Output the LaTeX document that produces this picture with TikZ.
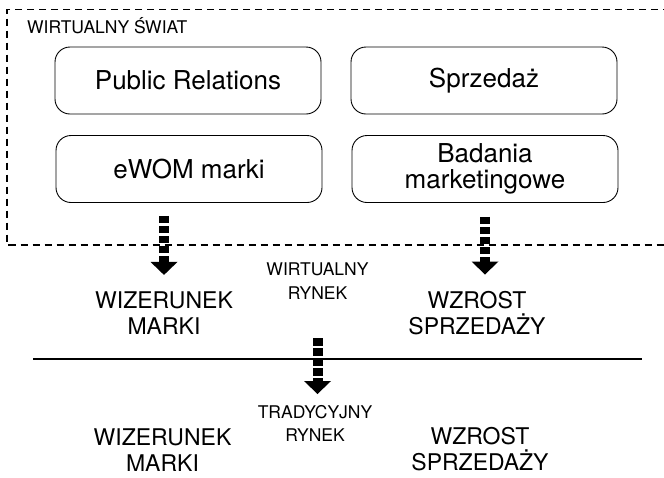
\documentclass[tikz,border=0pt]{standalone}
\usepackage{fontspec}
\setmainfont{TeX Gyre Heros}
\usetikzlibrary{arrows.meta,positioning}

\begin{document}
\begin{tikzpicture}[x=1pt, y=-1pt,
    box/.style={draw, rounded corners=15pt, line width=0.9pt, minimum width=266pt, minimum height=67pt, align=center, font=\fontsize{26}{25.5}\selectfont},
    big/.style={align=center, inner sep=0pt, font=\fontsize{23}{26}\selectfont},
    small/.style={align=center, inner sep=0pt, font=\fontsize{17.5}{23.5}\selectfont},
    squares/.style={line width=10pt, dash pattern=on 7.5pt off 2.5pt, -{Triangle[length=13pt, width=27pt, line width=0pt]}}]
    \useasboundingbox (0,0) rectangle (664,477);

    % Virtual world frame (open to the right)
    \draw[line width=1.1pt, dash pattern=on 7pt off 5pt] (670,9.5) -- (7,9.5) -- (7,245) -- (670,245);
    \node[anchor=base west, inner sep=0pt, font=\fontsize{17.5}{20}\selectfont] (swiat) at (27,33) {WIRTUALNY ŚWIAT};

    % Online activities
    \node[box] (pr) at (188,80.5) {Public Relations};
    \node[box] (sprzedaz) at (484,80.5) {Sprzedaż};
    \node[box] (ewom) at (189,169) {eWOM marki};
    \node[box] (badania) at (485,169) {Badania\\marketingowe};

    % Virtual market
    \node[big] (wiz1) at (164,313.5) {WIZERUNEK\\MARKI};
    \node[big] (wzr1) at (477,313.5) {WZROST\\SPRZEDAŻY};
    \node[small] (wirt) at (317.5,281) {WIRTUALNY\\RYNEK};

    % Border between the markets
    \draw[line width=1.6pt] (33,359) -- (642,359);

    % Traditional market
    \node[small] (trad) at (315,423.5) {TRADYCYJNY\\RYNEK};
    \node[big] (wiz2) at (162.5,450.5) {WIZERUNEK\\MARKI};
    \node[big] (wzr2) at (480,449.5) {WZROST\\SPRZEDAŻY};

    % Effects
    \draw[squares, shorten <=13pt, shorten >=17pt] (ewom.south -| wiz1.north) -- (wiz1.north);
    \draw[squares, shorten <=14pt, shorten >=17pt] (badania.south) -- (badania.south |- wzr1.north);
    \draw[squares, shorten <=39pt, shorten >=11pt] (wirt.south) -- (wirt.south |- trad.north);
\end{tikzpicture}
\end{document}
